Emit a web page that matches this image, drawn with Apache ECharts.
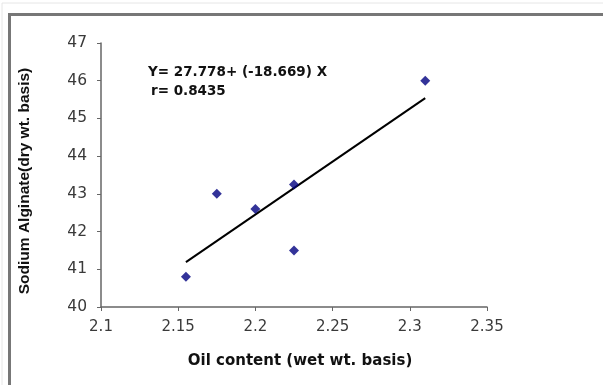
<!DOCTYPE html>
<html>
<head>
<meta charset="utf-8">
<script src="https://cdn.jsdelivr.net/npm/echarts@6/dist/echarts.min.js"></script>
<style>
  html, body { margin: 0; padding: 0; background: #fff; }
  #chart { width: 603px; height: 385px; }
</style>
</head>
<body>
<div id="chart"></div>
<script>
// oil content vs sodium alginate
const oilContent = [2.155, 2.175, 2.2, 2.225, 2.225, 2.31];
const alginate = [40.8, 43.0, 42.6, 43.25, 41.5, 46.0];
// trend line end points as drawn
const trendX = [2.155, 2.31];
const trendY = [41.19, 45.54];
const equationLines = ['Y= 27.778+ (-18.669) X', 'r= 0.8435'];

const chart = echarts.init(document.getElementById('chart'), null, { renderer: 'canvas' });

const option = {
  animation: false,
  grid: { left: 101, top: 43, width: 386, height: 264, containLabel: false },
  xAxis: {
    type: 'value',
    min: 2.1, max: 2.35, interval: 0.05,
    name: 'Oil content (wet wt. basis)',
    nameLocation: 'middle',
    nameGap: 47,
    nameTextStyle: { fontFamily: 'DejaVu Sans', fontWeight: 'bold', fontSize: 15, color: '#111', padding: [0, 0, 0, 12] },
    axisLine: { lineStyle: { color: '#666', width: 1.5 } },
    axisTick: { show: true, length: 4, lineStyle: { color: '#666' } },
    axisLabel: {
      fontFamily: 'DejaVu Sans', fontSize: 15, color: '#3a3a3a', margin: 13,
      formatter: v => String(+v.toFixed(2))
    },
    splitLine: { show: false }
  },
  yAxis: {
    type: 'value',
    min: 40, max: 47, interval: 1,
    name: 'Sodium Alginate(dry wt. basis)',
    nameLocation: 'middle',
    nameGap: 68,
    nameRotate: 90,
    nameTextStyle: { fontFamily: 'Liberation Sans', fontWeight: 'bold', fontSize: 15.5, color: '#111', padding: [0, 12, 0, 0] },
    axisLine: { show: true, lineStyle: { color: '#666', width: 1.5 } },
    axisTick: { show: true, length: 4, lineStyle: { color: '#666' } },
    axisLabel: { fontFamily: 'DejaVu Sans', fontSize: 15.5, color: '#3a3a3a', margin: 14 },
    splitLine: { show: false }
  },
  graphic: [
    { type: 'rect', silent: true, shape: { x: 2, y: 3, width: 610, height: 400 },
      style: { fill: null, stroke: '#e6e6e6', lineWidth: 1 } },
    { type: 'rect', silent: true, shape: { x: 9.5, y: 14.5, width: 610, height: 400 },
      style: { fill: null, stroke: '#777', lineWidth: 3 } },
    { type: 'text', left: 148, top: 65,
      style: { text: equationLines[0], font: 'bold 13.5px "DejaVu Sans"', fill: '#111' } },
    { type: 'text', left: 151, top: 84,
      style: { text: equationLines[1], font: 'bold 13.5px "DejaVu Sans"', fill: '#111' } }
  ],
  series: [
    {
      type: 'line',
      data: trendX.map((x, i) => [x, trendY[i]]),
      symbol: 'none',
      lineStyle: { color: '#000', width: 2 },
      z: 2
    },
    {
      type: 'scatter',
      data: oilContent.map((x, i) => [x, alginate[i]]),
      symbol: 'diamond',
      symbolSize: [10, 10],
      itemStyle: { color: '#000080' },
      z: 3
    }
  ]
};

chart.setOption(option);
</script>
</body>
</html>
